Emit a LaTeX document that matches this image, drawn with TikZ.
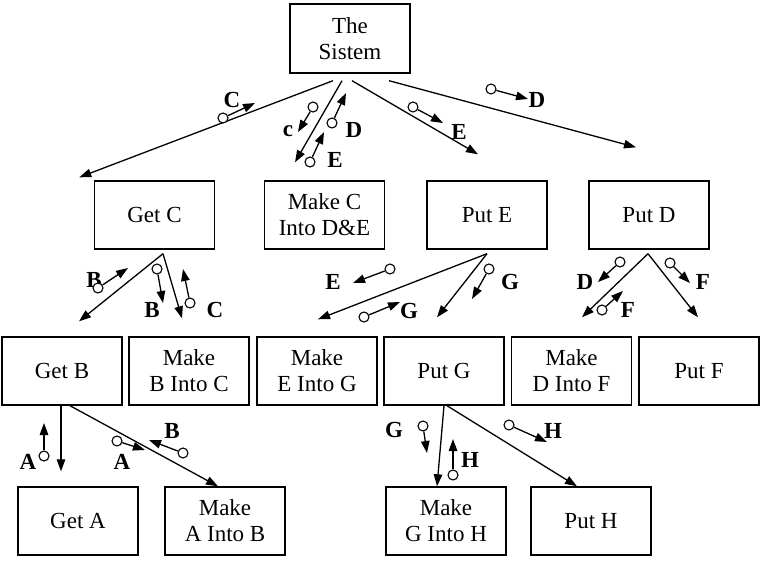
\documentclass[tikz,border=0pt]{standalone}
\usepackage{fontspec}
\setmainfont{Liberation Serif}
\usetikzlibrary{arrows.meta}

\begin{document}
\begin{tikzpicture}[x=1pt, y=-1pt,
    box/.style={draw, line width=1.4pt, minimum width=120pt, minimum height=68pt, inner sep=2pt, align=center, font=\fontsize{23}{26}\selectfont},
    ring/.style={circle, draw, fill=white, line width=1.1pt, inner sep=0pt, minimum size=10pt},
    lab/.style={inner sep=0pt, font=\bfseries\fontsize{23}{24}\selectfont},
    arr/.style={line width=1.3pt, -{Triangle[length=12pt, width=8.5pt]}}]
    \useasboundingbox (0,0) rectangle (768,567);
    % Top box
    \node[box, minimum height=69pt] (sys) at (350,38.5) {The\\Sistem};
    % Second row
    \node[box] (getC) at (154.5,215) {Get C};
    \node[box] (makeC) at (324.5,215) {Make C\\Into D\&E};
    \node[box] (putE) at (487,215) {Put E};
    \node[box] (putD) at (649,215) {Put D};
    % Third row
    \node[box] (getB) at (62,371) {Get B};
    \node[box] (makeB) at (189,371) {Make\\B Into C};
    \node[box] (makeE) at (317,371) {Make\\E Into G};
    \node[box] (putG) at (444,371) {Put G};
    \node[box] (makeD) at (571.5,371) {Make\\D Into F};
    \node[box] (putF) at (699,371) {Put F};
    % Bottom row
    \node[box] (getA) at (78,521) {Get A};
    \node[box] (makeA) at (225,521) {Make\\A Into B};
    \node[box] (makeG) at (446,521) {Make\\G Into H};
    \node[box] (putH) at (591,521) {Put H};
    % Tree lines
    \draw[arr] ([xshift=-17pt,yshift=-7pt]sys.south) -- ([xshift=-14.5pt,yshift=3pt]getC.north west);
    \draw[arr] ([xshift=-8pt,yshift=-7pt]sys.south) -- ([xshift=-29.5pt,yshift=18pt]makeC.north);
    \draw[arr] ([xshift=2pt,yshift=-7pt]sys.south) -- ([xshift=-9pt,yshift=26pt]putE.north);
    \draw[arr] ([xshift=39pt,yshift=-7pt]sys.south) -- ([xshift=-13pt,yshift=33pt]putD.north);
    \draw[arr] ([xshift=8.5pt,yshift=-4pt]getC.south) -- ([xshift=17pt,yshift=15pt]getB.north);
    \draw[arr] ([xshift=8.5pt,yshift=-4pt]getC.south) -- ([xshift=-7pt,yshift=18pt]makeB.north);
    \draw[arr] ([yshift=-4pt]putE.south) -- ([xshift=1pt,yshift=17pt]makeE.north);
    \draw[arr] ([yshift=-4pt]putE.south) -- ([xshift=-7pt,yshift=19pt]putG.north);
    \draw[arr] ([xshift=-1pt,yshift=-4pt]putD.south) -- ([xshift=10.5pt,yshift=19pt]makeD.north);
    \draw[arr] ([xshift=-1pt,yshift=-4pt]putD.south) -- ([xshift=-1pt,yshift=19pt]putF.north);
    \draw[arr] ([xshift=-1pt]getB.south) -- ([xshift=-17pt,yshift=15pt]getA.north);
    \draw[arr] ([xshift=8pt]getB.south) -- ([xshift=-7pt]makeA.north);
    \draw[arr] (putG.south) -- ([xshift=-9pt]makeG.north);
    \draw[arr] ([xshift=3pt]putG.south) -- ([xshift=-14pt]putH.north);
    % Flows under the top box
    \node[ring] (rC) at (223,118) {};
    \coordinate (tC) at (255,103);
    \draw[arr] (rC) -- (tC);
    \node[lab] (lC) at (232,100) {C};
    \node[ring] (rc) at (313,107) {};
    \coordinate (tc) at (298,132);
    \draw[arr] (rc) -- (tc);
    \node[lab] (lc) at (288,131) {c};
    \node[ring] (rD) at (332,123) {};
    \coordinate (tD) at (346,93);
    \draw[arr] (rD) -- (tD);
    \node[lab] (lD) at (354,130) {D};
    \node[ring] (rE) at (310,162) {};
    \coordinate (tE) at (324,132);
    \draw[arr] (rE) -- (tE);
    \node[lab] (lE) at (335,160) {E};
    \node[ring] (rE2) at (413,107) {};
    \coordinate (tE2) at (443,123);
    \draw[arr] (rE2) -- (tE2);
    \node[lab] (lE2) at (459,132) {E};
    \node[ring] (rD2) at (491,89) {};
    \coordinate (tD2) at (528,99);
    \draw[arr] (rD2) -- (tD2);
    \node[lab] (lD2) at (537,100) {D};
    % Flows under Get C
    \node[lab] (lB) at (94,280) {B};
    \node[ring] (rB) at (98,288) {};
    \coordinate (tB) at (128,268);
    \draw[arr] (rB) -- (tB);
    \node[ring] (rB2) at (157,269) {};
    \coordinate (tB2) at (163,303);
    \draw[arr] (rB2) -- (tB2);
    \node[lab] (lB2) at (152,310) {B};
    \node[ring] (rC2) at (190,303) {};
    \coordinate (tC2) at (183,269);
    \draw[arr] (rC2) -- (tC2);
    \node[lab] (lC2) at (215,310) {C};
    % Flows under Put E
    \node[ring] (rE3) at (390,269) {};
    \coordinate (tE3) at (353,283);
    \draw[arr] (rE3) -- (tE3);
    \node[lab] (lE3) at (333,282) {E};
    \node[ring] (rG) at (364,317) {};
    \coordinate (tG) at (400,302);
    \draw[arr] (rG) -- (tG);
    \node[lab] (lG) at (409,311) {G};
    \node[ring] (rG2) at (489,269) {};
    \coordinate (tG2) at (472,299);
    \draw[arr] (rG2) -- (tG2);
    \node[lab] (lG2) at (510,282) {G};
    % Flows under Put D
    \node[ring] (rD3) at (620,262) {};
    \coordinate (tD3) at (598,282);
    \draw[arr] (rD3) -- (tD3);
    \node[lab] (lD3) at (585,282) {D};
    \node[ring] (rF) at (602,310) {};
    \coordinate (tF) at (623,291);
    \draw[arr] (rF) -- (tF);
    \node[lab] (lF) at (628,310) {F};
    \node[ring] (rF2) at (670,263) {};
    \coordinate (tF2) at (690,283);
    \draw[arr] (rF2) -- (tF2);
    \node[lab] (lF2) at (703,282) {F};
    % Flows under Get B
    \node[ring] (rA) at (44,456) {};
    \coordinate (tA) at (44,423);
    \draw[arr] (rA) -- (tA);
    \node[lab] (lA) at (28,462) {A};
    \node[ring] (rA2) at (117,441) {};
    \coordinate (tA2) at (145,450);
    \draw[arr] (rA2) -- (tA2);
    \node[lab] (lA2) at (122,462) {A};
    \node[ring] (rB3) at (183,453) {};
    \coordinate (tB3) at (149,440);
    \draw[arr] (rB3) -- (tB3);
    \node[lab] (lB3) at (172,431) {B};
    % Flows under Put G
    \node[ring] (rG3) at (423,426) {};
    \coordinate (tG3) at (427,453);
    \draw[arr] (rG3) -- (tG3);
    \node[lab] (lG3) at (394,430) {G};
    \node[ring] (rH) at (453,475) {};
    \coordinate (tH) at (453,439);
    \draw[arr] (rH) -- (tH);
    \node[lab] (lH) at (470,460) {H};
    \node[ring] (rH2) at (509,425) {};
    \coordinate (tH2) at (547,442);
    \draw[arr] (rH2) -- (tH2);
    \node[lab] (lH2) at (553,431) {H};
\end{tikzpicture}
\end{document}
